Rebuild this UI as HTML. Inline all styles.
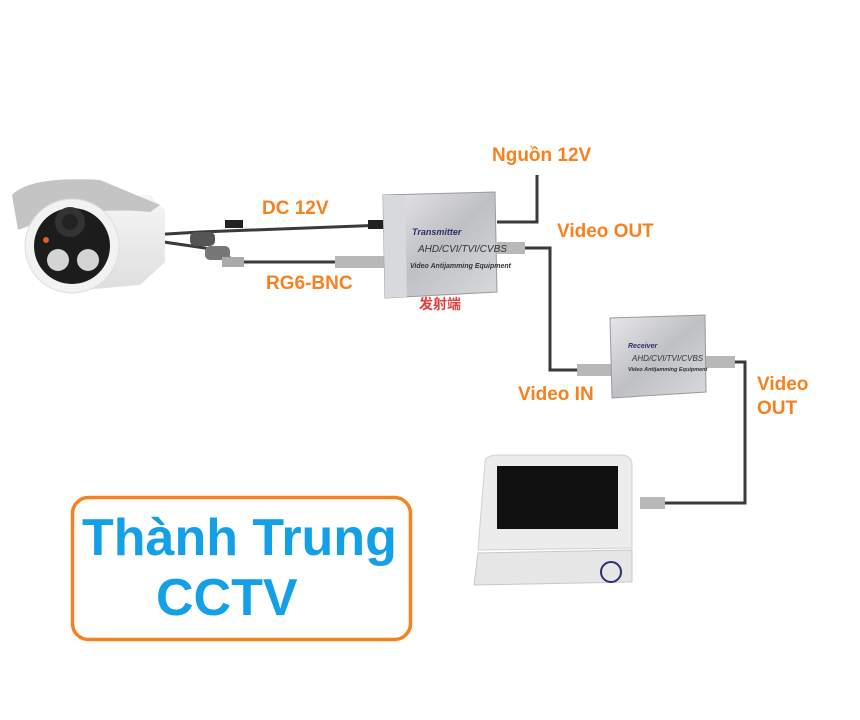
<!DOCTYPE html>
<html><head><meta charset="utf-8"><style>
html,body{margin:0;padding:0;background:#fff;}
svg{display:block}
.o{font-family:"Liberation Sans",sans-serif;font-weight:bold;fill:#f7811f;font-size:19px}
</style></head><body>
<svg width="860" height="720" viewBox="0 0 860 720" xmlns="http://www.w3.org/2000/svg">
<defs>
<linearGradient id="sil" x1="0" y1="0" x2="1" y2="1"><stop offset="0" stop-color="#e8e8ea"/><stop offset="0.5" stop-color="#bfc0c4"/><stop offset="1" stop-color="#d8d9dc"/></linearGradient>
<linearGradient id="cam" x1="0" y1="0" x2="0" y2="1"><stop offset="0" stop-color="#f6f6f6"/><stop offset="1" stop-color="#dedede"/></linearGradient>
</defs>
<!-- wires -->
<g fill="none" stroke="#3a3a3a" stroke-width="3">
<path d="M150 235 L200 232 L385 225"/>
<path d="M150 240 L205 248 L240 262 L385 262"/>
<path d="M497 222 L537 222 L537 175"/>
<path d="M497 248 L550 248 L550 370 L612 370"/>
<path d="M705 362 L745 362 L745 503 L645 503"/>
</g>
<rect x="225" y="220" width="18" height="8" fill="#222"/>
<rect x="368" y="220" width="18" height="9" fill="#222"/>
<rect x="190" y="232" width="25" height="14" rx="5" fill="#555"/>
<rect x="205" y="246" width="25" height="14" rx="5" fill="#777"/>
<rect x="222" y="257" width="22" height="10" fill="#aaa"/>
<rect x="335" y="256" width="50" height="12" fill="#b8b8b8"/>
<rect x="497" y="242" width="28" height="12" fill="#b8b8b8"/>
<rect x="577" y="364" width="36" height="12" fill="#b8b8b8"/>
<rect x="705" y="356" width="30" height="12" fill="#b8b8b8"/>
<rect x="640" y="497" width="25" height="12" fill="#b8b8b8"/>
<!-- camera -->
<path d="M30 200 L150 195 L165 210 L165 262 L140 285 L60 292 Z" fill="url(#cam)"/>
<path d="M12 195 Q30 176 100 180 L160 205 L150 212 Q80 205 18 230Z" fill="#c4c4c4"/>
<circle cx="72" cy="246" r="47" fill="#f2f2f2" stroke="#ddd"/>
<circle cx="72" cy="246" r="38" fill="#1c1c1c"/>
<circle cx="70" cy="222" r="15" fill="#333"/>
<circle cx="70" cy="222" r="8" fill="#222"/>
<circle cx="58" cy="260" r="11" fill="#d4d4d4"/>
<circle cx="88" cy="260" r="11" fill="#d4d4d4"/>
<circle cx="46" cy="240" r="3" fill="#e06020"/>
<!-- transmitter -->
<path d="M383 195 L495 192 L497 292 L385 298Z" fill="url(#sil)" stroke="#9a9a9a"/>
<path d="M383 195 L405 195 L407 297 L385 298Z" fill="#d8d9dc"/>
<g font-family="Liberation Sans,sans-serif" font-style="italic" fill="#2a2f6a">
<text x="412" y="235" font-size="9" font-weight="bold">Transmitter</text>
<text x="418" y="252" font-size="10" fill="#333">AHD/CVI/TVI/CVBS</text>
<text x="410" y="268" font-size="7" font-weight="bold" fill="#333">Video Antijamming Equipment</text>
</g>
<text x="419" y="309" font-family="Liberation Sans,'Noto Sans CJK SC',sans-serif" font-weight="bold" font-size="14" fill="#e04040">发射端</text>
<!-- receiver -->
<path d="M610 318 L705 315 L706 392 L612 398Z" fill="url(#sil)" stroke="#9a9a9a"/>
<g font-family="Liberation Sans,sans-serif" font-style="italic" fill="#2a2f6a">
<text x="628" y="348" font-size="7" font-weight="bold">Receiver</text>
<text x="632" y="361" font-size="8" fill="#333">AHD/CVI/TVI/CVBS</text>
<text x="628" y="371" font-size="5.5" font-weight="bold" fill="#333">Video Antijamming Equipment</text>
</g>
<!-- monitor -->
<path d="M485 462 Q485 455 500 455 L620 455 Q632 455 632 465 L632 548 L478 550Z" fill="#ececec" stroke="#d0d0d0"/>
<rect x="497" y="466" width="121" height="63" fill="#101010"/>
<path d="M478 553 L632 550 L632 582 L474 585Z" fill="#e6e6e6" stroke="#c8c8c8"/>
<circle cx="611" cy="572" r="10" fill="none" stroke="#2a2f7a" stroke-width="2"/>
<!-- labels -->
<text class="o" x="492" y="161">Nguồn 12V</text>
<text class="o" x="262" y="214">DC 12V</text>
<text class="o" x="557" y="237">Video OUT</text>
<text class="o" x="266" y="289">RG6-BNC</text>
<text class="o" x="518" y="400">Video IN</text>
<text class="o" x="757" y="390">Video</text>
<text class="o" x="757" y="414">OUT</text>
<rect x="72.5" y="497.5" width="338" height="142" rx="16" fill="#fff" stroke="#f7811f" stroke-width="3.5"/>
<g font-family="Liberation Sans,sans-serif" font-weight="bold" font-size="52" fill="#13a0e6">
<text x="82" y="555">Thành Trung</text>
<text x="156" y="615">CCTV</text>
</g>
</svg>
</body></html>
